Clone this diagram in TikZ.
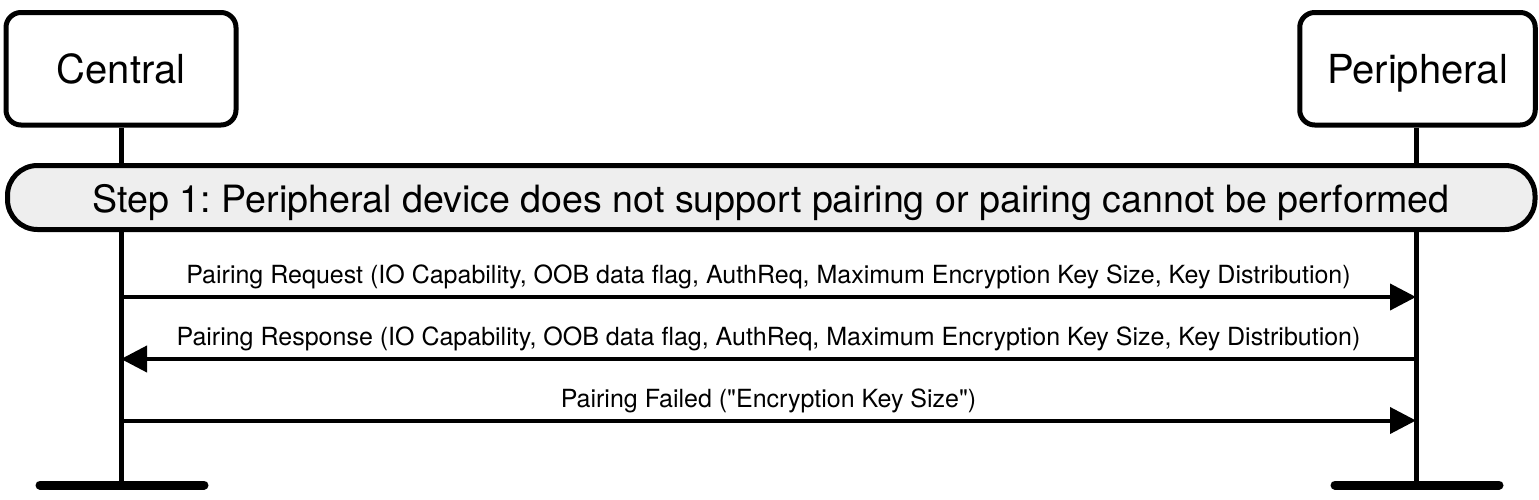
\documentclass[tikz,border=0pt]{standalone}
\usepackage{fontspec}
\setmainfont{TeX Gyre Heros}
\usetikzlibrary{arrows.meta}
\definecolor{bannergray}{HTML}{EEEEEE}
\frenchspacing
\begin{document}
\begin{tikzpicture}[x=0.5pt,y=-0.5pt,
  actor/.style={draw, line width=2.5pt, rounded corners=7.5pt, fill=white,
    font=\fontsize{20}{24}\selectfont, text height=14.5pt, text depth=0pt,
    minimum height=56.25pt, inner sep=0pt},
  banner/.style={draw, line width=2.5pt, rounded corners=15pt, fill=bannergray,
    font=\fontsize{18.8}{22}\selectfont, text height=14.5pt, text depth=0pt,
    minimum height=32pt, minimum width=763.75pt, inner sep=0pt},
  lifeline/.style={line width=2.5pt},
  endbar/.style={line width=4.5pt, line cap=round},
  msg/.style={line width=2pt, -{Triangle[length=13pt,width=13pt]}},
  msglabel/.style={font=\fontsize{12.5}{15}\selectfont, anchor=base, inner sep=0pt}
]
\useasboundingbox (0,0) rectangle (1539,499);
% actors
\node[actor, minimum width=115pt] (central) at (121,68.75) {Central};
\node[actor, minimum width=117.75pt] (peripheral) at (1417.5,68.75) {Peripheral};
% lifeline ends
\coordinate (cend) at (121,485);
\coordinate (pend) at (1416,485);
\draw[lifeline] (central.south) -- (cend);
\draw[lifeline] (peripheral.south -| pend) -- (pend);
% banner
\node[banner] (step) at (771.25,197.5) {Step 1: Peripheral device does not support pairing or pairing cannot be performed};
% messages
\coordinate (c1) at (121,297);  \coordinate (p1) at (1416,297);
\coordinate (c2) at (121,359);  \coordinate (p2) at (1416,359);
\coordinate (c3) at (121,420.5);\coordinate (p3) at (1416,420.5);
\draw[msg] (c1) -- (p1);
\node[msglabel] (l1) at (768.5,283) {Pairing Request (IO Capability, OOB data flag, AuthReq, Maximum Encryption Key Size, Key Distribution)};
\draw[msg] (p2) -- (c2);
\node[msglabel] (l2) at (768.5,345) {Pairing Response (IO Capability, OOB data flag, AuthReq, Maximum Encryption Key Size, Key Distribution)};
\draw[msg] (c3) -- (p3);
\node[msglabel] (l3) at (768.5,407) {Pairing Failed (\textquotedbl Encryption Key Size\textquotedbl)};
% end bars
\coordinate (cbl) at (40,485);   \coordinate (cbr) at (204,485);
\coordinate (pbl) at (1335,485); \coordinate (pbr) at (1499,485);
\draw[endbar] (cbl) -- (cbr);
\draw[endbar] (pbl) -- (pbr);
\end{tikzpicture}
\end{document}
